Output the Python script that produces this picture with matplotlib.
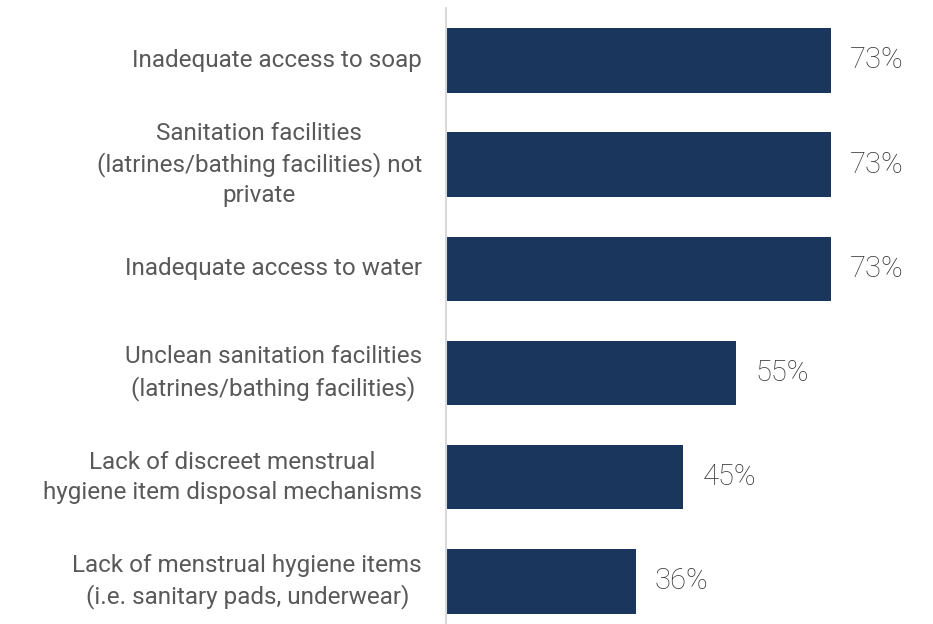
import matplotlib.pyplot as plt
from matplotlib.transforms import ScaledTranslation

categories = [
    "Inadequate access to soap",
    "Sanitation facilities\n(latrines/bathing facilities) not\nprivate",
    "Inadequate access to water",
    "Unclean sanitation facilities\n(latrines/bathing facilities)",
    "Lack of discreet menstrual\nhygiene item disposal mechanisms",
    "Lack of menstrual hygiene items\n(i.e. sanitary pads, underwear)",
]
values = [73, 73, 73, 55, 45, 36]
value_labels = ["73%", "73%", "73%", "55%", "45%", "36%"]

bar_color = "#1B365D"
label_color = "#595959"
value_color = "#333333"

plt.rcParams["font.family"] = ["Roboto", "DejaVu Sans"]

fig = plt.figure(figsize=(9.33, 6.24), dpi=100)
ax = fig.add_axes([446 / 933, 0.0, 1 - 446 / 933, 1 - 8 / 624])

y = list(range(len(categories)))
ax.barh(y, values, height=0.62, color=bar_color)

ax.set_xlim(0, 92.3)
ax.set_ylim(5.41, -0.504)

for s in ["top", "right", "bottom"]:
    ax.spines[s].set_visible(False)
ax.spines["left"].set_color("#D9D9D9")
ax.spines["left"].set_linewidth(1.5)
ax.set_xticks([])
ax.set_yticks([])

label_off = ScaledTranslation(-24 / 100, 0, fig.dpi_scale_trans)
for yi, cat in zip(y, categories):
    ax.text(0, yi, cat, ha="right", va="center", multialignment="center",
            fontsize=17.5, color=label_color, linespacing=1.38,
            transform=ax.transData + label_off)

value_off = ScaledTranslation(19 / 100, 0, fig.dpi_scale_trans)
for yi, v, lab in zip(y, values, value_labels):
    ax.text(v, yi, lab, ha="left", va="center", fontsize=21,
            color=value_color, fontweight="light",
            transform=ax.transData + value_off)

fig.savefig("out.png", dpi=100)
